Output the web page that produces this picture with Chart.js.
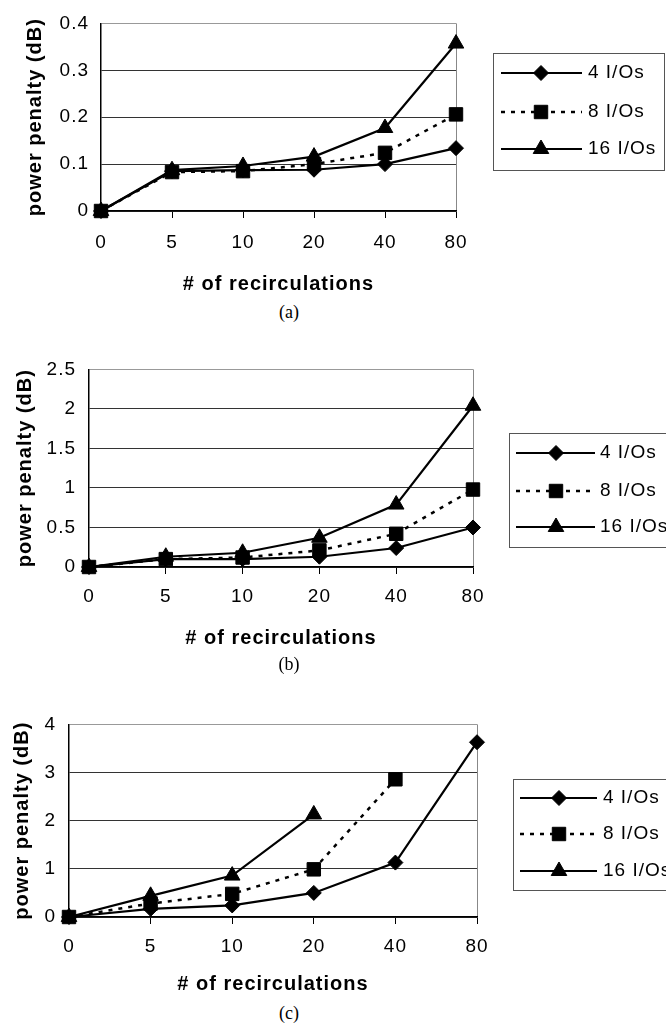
<!DOCTYPE html>
<html lang="en">
<head>
<meta charset="UTF-8">
<title>Power penalty vs. number of recirculations</title>
<script src="https://cdn.jsdelivr.net/npm/chart.js"></script>
<style>
  body { margin: 0; background: #fff; width: 666px; height: 1030px; position: relative; overflow: hidden; }
  canvas { position: absolute; left: 0; }
  .caption {
    position: absolute; left: 259px; width: 60px; text-align: center;
    font: 18px "Liberation Serif", "Times New Roman", serif; line-height: 20px; color: #000;
  }
</style>
</head>
<body>
<canvas id="chartA" width="666" height="300" style="top:0px"></canvas>
<div class="caption" style="top:302px">(a)</div>
<canvas id="chartB" width="666" height="310" style="top:345px"></canvas>
<div class="caption" style="top:654px">(b)</div>
<canvas id="chartC" width="666" height="300" style="top:700px"></canvas>
<div class="caption" style="top:1003px">(c)</div>
<script>
// categories and series names
const recirculations = ['0', '5', '10', '20', '40', '80'];
const seriesNames = ['4 I/Os', '8 I/Os', '16 I/Os'];

// (a)
const ioA4 = [0, 0.085, 0.087, 0.088, 0.1, 0.134];
const ioA8 = [0, 0.083, 0.085, 0.1, 0.124, 0.206];
const ioA16 = [0, 0.087, 0.096, 0.116, 0.177, 0.357];
// (b)
const ioB4 = [0, 0.1, 0.1, 0.13, 0.24, 0.5];
const ioB8 = [0, 0.1, 0.12, 0.21, 0.42, 0.98];
const ioB16 = [0, 0.13, 0.18, 0.37, 0.79, 2.04];
// (c)
const ioC4 = [0, 0.17, 0.24, 0.5, 1.13, 3.63];
const ioC8 = [0, 0.28, 0.48, 0.99, 2.86, null];
const ioC16 = [0, 0.44, 0.86, 2.13, null, null];

// y axis ranges
const yMaxes = [0.4, 2.5, 4];
const ySteps = [0.1, 0.5, 1];

const seriesStyles = [
    { pointStyle: 'rectRot', radius: 7.5, dash: [], width: 2.2 },
    { pointStyle: 'rect', radius: 9.5, dash: [4, 6], width: 2.5 },
    { pointStyle: 'triangle', radius: 9, dash: [], width: 2.2 }
];

const fontFamily = '"Liberation Sans", Arial, sans-serif';
Chart.defaults.font.family = fontFamily;
Chart.defaults.font.size = 19;
Chart.defaults.color = '#000';

// scanned figure has wide text, so space letters a little
const spacing = {
    id: 'spacing',
    beforeDraw(chart) {
        chart.ctx.letterSpacing = '1px';
    }
};

// excel-style legend: line sample with marker in the middle
const ioLegend = {
    id: 'ioLegend',
    afterDraw(chart, args, opts) {
        const ctx = chart.ctx;
        const b = opts.box;
        ctx.save();
        ctx.strokeStyle = '#555';
        ctx.lineWidth = 1;
        ctx.strokeRect(b[0] + 0.5, b[1] + 0.5, b[2] - b[0], b[3] - b[1]);
        chart.data.datasets.forEach((ds, i) => {
            const y = opts.rows[i];
            ctx.beginPath();
            ctx.setLineDash(ds.borderDash);
            ctx.lineWidth = ds.borderWidth;
            ctx.strokeStyle = '#000';
            ctx.moveTo(opts.line[0], y);
            ctx.lineTo(opts.line[1], y);
            ctx.stroke();
            ctx.setLineDash([]);
            ctx.fillStyle = '#000';
            ctx.lineWidth = 1;
            Chart.helpers.drawPoint(ctx, {
                pointStyle: ds.pointStyle, radius: ds.pointRadius, rotation: 0, borderWidth: 1
            }, opts.marker, y);
            ctx.font = '19px ' + fontFamily;
            ctx.textBaseline = 'middle';
            ctx.textAlign = 'left';
            ctx.fillText(ds.label, opts.textX, y);
        });
        ctx.restore();
    }
};

function makeDatasets(series) {
    return series.map((values, i) => ({
        label: seriesNames[i],
        data: values,
        borderColor: '#000',
        backgroundColor: '#000',
        borderWidth: seriesStyles[i].width,
        borderDash: seriesStyles[i].dash,
        pointStyle: seriesStyles[i].pointStyle,
        pointRadius: seriesStyles[i].radius,
        pointBackgroundColor: '#000',
        pointBorderColor: '#000',
        pointBorderWidth: 1,
        tension: 0,
        clip: false
    }));
}

function makeChart(id, series, k, lay) {
    const nLast = recirculations.length - 1;
    const yTickCount = Math.round(yMaxes[k] / ySteps[k]);
    new Chart(document.getElementById(id), {
        type: 'line',
        data: { labels: recirculations, datasets: makeDatasets(series) },
        options: {
            responsive: false,
            animation: false,
            devicePixelRatio: 1,
            layout: { padding: { top: lay.padTop, right: lay.padRight, left: 0, bottom: 0 } },
            plugins: {
                legend: { display: false },
                tooltip: { enabled: false },
                ioLegend: lay.legend
            },
            scales: {
                x: {
                    type: 'category',
                    offset: false,
                    afterFit: s => { s.height = lay.xAxisH; },
                    grid: {
                        offset: false,
                        drawOnChartArea: true,
                        drawTicks: true,
                        tickLength: 7,
                        tickColor: '#000',
                        color: c => c.index === nLast ? '#888' : 'rgba(0,0,0,0)'
                    },
                    border: { color: '#000', width: 1.5 },
                    ticks: { padding: lay.xPad, maxRotation: 0, autoSkip: false },
                    title: {
                        display: true,
                        text: '# of recirculations',
                        font: { size: 20, weight: 'bold' },
                        padding: { top: 0, bottom: lay.xTitlePad }
                    }
                },
                y: {
                    min: 0,
                    max: yMaxes[k],
                    afterFit: s => { s.width = lay.plotLeft; },
                    grid: {
                        drawTicks: false,
                        color: c => c.index === yTickCount ? '#999' : '#333'
                    },
                    border: { color: '#000', width: 1.5 },
                    ticks: {
                        stepSize: ySteps[k],
                        padding: lay.yPad,
                        callback: v => String(Number(v.toFixed(2)))
                    },
                    title: {
                        display: true,
                        text: 'power penalty (dB)',
                        font: { size: 20, weight: 'bold' },
                        padding: { top: lay.yTitlePad, bottom: 0 }
                    }
                }
            }
        },
        plugins: [spacing, ioLegend]
    });
}

makeChart('chartA', [ioA4, ioA8, ioA16], 0, {
    padTop: 15, padRight: 210, plotLeft: 101, xAxisH: 89, xPad: 13, xTitlePad: 4, yPad: 12, yTitlePad: 23,
    legend: { box: [493, 53, 664, 170], rows: [73, 112, 149], line: [501, 582], marker: 541, textX: 588 }
});
makeChart('chartB', [ioB4, ioB8, ioB16], 1, {
    padTop: 23, padRight: 193, plotLeft: 89, xAxisH: 88, xPad: 11, xTitlePad: 5, yPad: 13, yTitlePad: 13,
    legend: { box: [509, 88, 670, 202], rows: [108, 146, 182], line: [516, 595], marker: 556, textX: 600 }
});
makeChart('chartC', [ioC4, ioC8, ioC16], 2, {
    padTop: 20, padRight: 189, plotLeft: 69, xAxisH: 83, xPad: 11, xTitlePad: 4, yPad: 13, yTitlePad: 10,
    legend: { box: [513, 79, 668, 190], rows: [98, 134, 171], line: [520, 597], marker: 559, textX: 603 }
});
</script>
</body>
</html>
